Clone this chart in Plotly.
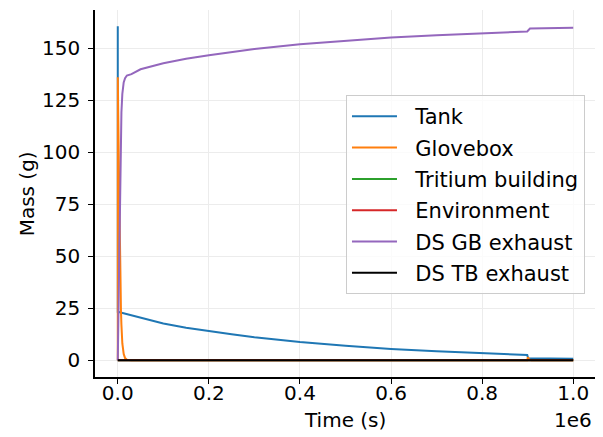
import plotly.graph_objects as go

# ---- data ----
t_tank = [0, 100, 2000, 20000, 50000, 100000, 150000, 200000, 250000, 300000,
          400000, 500000, 600000, 700000, 800000, 899000, 901000, 950000, 1000000]
m_tank = [160.5, 23.2, 23.1, 22.1, 20.3, 17.6, 15.6, 13.9, 12.4, 11.0,
          8.7, 6.9, 5.4, 4.3, 3.3, 2.5, 0.9, 0.8, 0.7]

t_gb = [0, 100, 1000, 2000, 3000, 4000, 5000, 6000, 7000, 8000, 10000, 13000,
        16000, 20000, 30000, 899000, 900500, 903000, 908000, 1000000]
m_gb = [0, 136, 118, 100, 79, 60, 45, 33, 24, 17, 8, 3,
        1, 0.2, 0, 0, 1.4, 0.4, 0, 0]

t_zero = [0, 1000000]
m_tritium_building = [0, 0]
m_environment = [0, 0]
m_ds_tb = [0, 0]

t_dsgb = [0, 100, 1000, 2000, 3000, 4000, 5000, 6000, 8000, 10000, 13000, 16000,
          20000, 30000, 50000, 100000, 150000, 200000, 250000, 300000, 400000,
          500000, 600000, 700000, 800000, 899000, 905000, 950000, 1000000]
m_dsgb = [0, 0, 18, 36, 57, 76, 91, 103, 119, 128, 133.5, 135.5,
          136.8, 137.5, 139.8, 142.7, 144.9, 146.6, 148.1, 149.5, 151.8,
          153.6, 155.1, 156.2, 157.2, 158.0, 159.4, 159.6, 159.8]

series = [
    ("Tank", t_tank, m_tank, "#1f77b4"),
    ("Glovebox", t_gb, m_gb, "#ff7f0e"),
    ("Tritium building", t_zero, m_tritium_building, "#2ca02c"),
    ("Environment", t_zero, m_environment, "#d62728"),
    ("DS GB exhaust", t_dsgb, m_dsgb, "#9467bd"),
    ("DS TB exhaust", t_zero, m_ds_tb, "#000000"),
]

xticks = [0, 200000, 400000, 600000, 800000, 1000000]
xticklabels = ["0.0", "0.2", "0.4", "0.6", "0.8", "1.0"]
yticks = [0, 25, 50, 75, 100, 125, 150]

fig = go.Figure()
for name, t, m, c in series:
    fig.add_trace(go.Scatter(x=t, y=m, mode="lines", name="\u00a0\u00a0" + name,
                             legendgroup=name, line=dict(color=c, width=2)))

font = dict(family="DejaVu Sans", size=20, color="black")
lfont = dict(family="DejaVu Sans", size=21, color="black")
# page body has an 8px default margin, so the figure is 8px smaller and shifted
fig.update_layout(
    width=595, height=429,
    margin=dict(l=87, r=7, t=2, b=60, autoexpand=False),
    paper_bgcolor="white", plot_bgcolor="white",
    font=font,
    showlegend=True,
    legend=dict(x=0.978, y=0.768, xanchor="right", yanchor="top",
                bgcolor="rgba(255,255,255,0.8)", bordercolor="#cccccc", borderwidth=1,
                font=lfont, tracegroupgap=1, itemwidth=45),
)
fig.update_xaxes(range=[-50000, 1050000], tickvals=xticks, ticktext=xticklabels,
                 showline=True, linecolor="black", linewidth=1.5, mirror=False,
                 ticks="outside", ticklen=5, tickwidth=1.2, tickcolor="black",
                 showgrid=True, gridcolor="#ececec", gridwidth=1, zeroline=False,
                 automargin=False, tickfont=font, ticklabelstandoff=-8)
fig.update_yaxes(range=[-8.1, 168.3], tickvals=yticks,
                 showline=True, linecolor="black", linewidth=1.5, mirror=False,
                 ticks="outside", ticklen=5, tickwidth=1.2, tickcolor="black",
                 showgrid=True, gridcolor="#ececec", gridwidth=1, zeroline=False,
                 automargin=False, tickfont=font, ticklabelstandoff=4)
fig.add_annotation(text="Time (s)", x=0.499, xref="paper", y=-0.117, yref="paper",
                   xanchor="center", yanchor="middle", showarrow=False, font=font)
fig.add_annotation(text="Mass (g)", x=-0.136, xref="paper", y=0.5, yref="paper",
                   xanchor="center", yanchor="middle", showarrow=False, font=font,
                   textangle=-90)
fig.add_annotation(text="1e6", x=1000000, xref="x", y=-0.117, yref="paper",
                   xanchor="center", yanchor="middle", showarrow=False, font=font)
fig.write_html("out.html")
